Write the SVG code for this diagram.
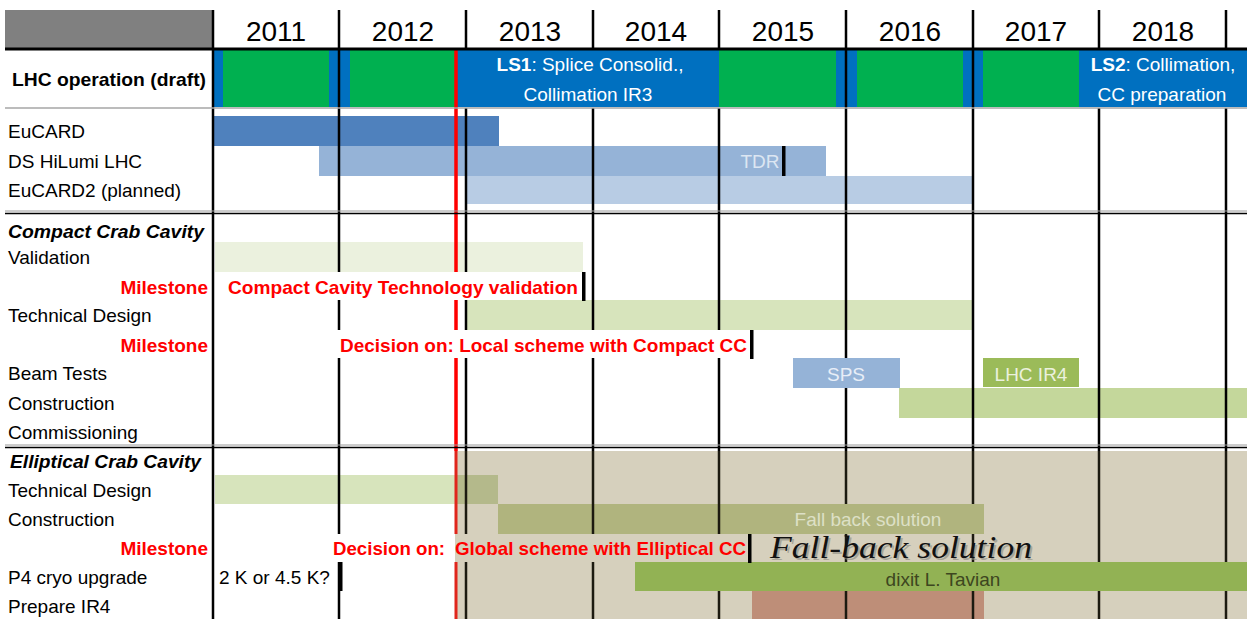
<svg xmlns="http://www.w3.org/2000/svg" width="1247" height="619" viewBox="0 0 1247 619">
<style>
text{font-family:"Liberation Sans",Arial,sans-serif;}
.yr{font-size:28px;fill:#000;text-anchor:middle;}
.lbl{font-size:19px;fill:#000;}
.ttl{font-size:19px;font-weight:bold;font-style:italic;fill:#000;}
.ms{font-size:19px;font-weight:bold;fill:#ff0000;}
.msl{font-size:19px;font-weight:bold;fill:#ff0000;text-anchor:end;}
.ls{font-size:19px;fill:#fff;text-anchor:middle;}
.bar{font-size:19px;text-anchor:middle;}
.scr{font-family:"Liberation Serif","Times New Roman",serif;font-style:italic;font-size:32px;}
.g{stroke:#000;stroke-width:2.5;fill:none;}
.gt{stroke:#1c1a10;stroke-width:2.5;fill:none;}
.mk{fill:#000;}
</style>
<rect x="0" y="0" width="1247" height="619" fill="#fff"/>
<rect x="5" y="10" width="208" height="38" fill="#808080"/>
<rect x="455" y="451" width="792" height="168" fill="#d6d0bd"/>

<g id="lhc-operation">
<rect x="213" y="50" width="1034" height="57" fill="#0070c0"/>
<rect x="223" y="50" width="106" height="57" fill="#00b050"/>
<rect x="350" y="50" width="105" height="57" fill="#00b050"/>
<rect x="719" y="50" width="117" height="57" fill="#00b050"/>
<rect x="857" y="50" width="106" height="57" fill="#00b050"/>
<rect x="983" y="50" width="96" height="57" fill="#00b050"/>
<text class="ls" x="590" y="71"><tspan font-weight="bold">LS1</tspan>: Splice Consolid.,</text>
<text class="ls" x="588" y="101">Collimation IR3</text>
<text class="ls" x="1163" y="71"><tspan font-weight="bold">LS2</tspan>: Collimation,</text>
<text class="ls" x="1162" y="101">CC preparation</text>
</g>

<g id="bars">
<rect x="213" y="116" width="286" height="30" fill="#4f81bd"/>
<rect x="319" y="146" width="507" height="30" fill="#95b3d7"/>
<rect x="467" y="176" width="505" height="28" fill="#b8cce4"/>
<rect x="215" y="242" width="368" height="30" fill="#ebf1de"/>
<rect x="467" y="300" width="505" height="30" fill="#d7e4bc"/>
<rect x="983" y="358" width="96" height="29" fill="#9bbb59"/>
<rect x="899" y="388" width="348" height="30" fill="#c4d79b"/>
<rect x="215" y="475" width="240" height="29" fill="#d7e4bc"/>
<rect x="455" y="475" width="43" height="29" fill="#b4b98b"/>
<rect x="498" y="504" width="486" height="30" fill="#b0b47e"/>
<rect x="752" y="591" width="232" height="28" fill="#be8e78"/>
</g>

<g id="connectors">
<path class="g" d="M213,10V619" stroke-width="3"/>
<path class="g" d="M339,10V272M339,300V330M339,358V534M339,562V619"/>
<path class="g" d="M466,10V50M466,108V272M466,300V330M466,358V451"/>
<path class="gt" d="M466,451V534M466,562V619"/>
<path class="g" d="M593,10V50M593,108V330M593,358V451"/>
<path class="gt" d="M593,451V534M593,562V619"/>
<path class="g" d="M719,10V50M719,108V330M719,358V451"/>
<path class="gt" d="M719,451V534M719,562V619"/>
<path class="g" d="M846,10V451"/>
<path class="gt" d="M846,451V504M846,534V619"/>
<path class="g" d="M973,10V451"/>
<path class="gt" d="M973,451V504M973,534V619"/>
<path class="g" d="M1099,10V50M1099,108V451"/>
<path class="gt" d="M1099,451V619"/>
<path class="g" d="M1226,10V50M1226,108V451"/>
<path class="gt" d="M1226,451V619"/>
<path d="M456,50V272M456,300V330M456,358V451" stroke="#ff0000" stroke-width="3.5" fill="none"/>
<path d="M456,451V534M456,562V619" stroke="#e0261c" stroke-width="3" fill="none"/>
<path d="M5,49H1247" stroke="#000" stroke-width="3"/>
<path d="M5,108H1247" stroke="#a6a6a6" stroke-width="1.5"/>
<path d="M5,211H1247" stroke="#9a9a9a" stroke-width="1"/>
<path d="M5,213.5H1247" stroke="#000" stroke-width="1.5"/>
<path d="M5,445H1247" stroke="#9a9a9a" stroke-width="1"/>
<path d="M5,447.5H1247" stroke="#000" stroke-width="1.5"/>
</g>

<g id="top-bars">
<rect x="216" y="272" width="366" height="28" fill="#fff"/>
<rect x="337" y="330" width="413" height="28" fill="#fff"/>
<rect x="330" y="534" width="125" height="28" fill="#fff"/>
<rect x="793" y="358" width="107" height="30" fill="#95b3d7"/>
<rect x="635" y="562" width="612" height="29" fill="#92b254"/>
</g>

<g id="markers">
<rect class="mk" x="782" y="146" width="3.5" height="30"/>
<rect class="mk" x="582" y="272" width="3.5" height="29"/>
<rect class="mk" x="750" y="330" width="3.5" height="29"/>
<rect class="mk" x="748" y="534" width="3.5" height="29"/>
<rect class="mk" x="339" y="562" width="3.5" height="29"/>
</g>

<g id="years">
<text class="yr" x="276" y="41">2011</text>
<text class="yr" x="403" y="41">2012</text>
<text class="yr" x="530" y="41">2013</text>
<text class="yr" x="656" y="41">2014</text>
<text class="yr" x="783" y="41">2015</text>
<text class="yr" x="910" y="41">2016</text>
<text class="yr" x="1036" y="41">2017</text>
<text class="yr" x="1163" y="41">2018</text>
</g>

<g id="labels">
<text x="12" y="86" font-size="19" font-weight="bold" textLength="194" lengthAdjust="spacingAndGlyphs">LHC operation (draft)</text>
<text class="lbl" x="8" y="138">EuCARD</text>
<text class="lbl" x="8" y="168">DS HiLumi LHC</text>
<text class="lbl" x="8" y="197">EuCARD2 (planned)</text>
<text class="ttl" x="8" y="238" textLength="196" lengthAdjust="spacingAndGlyphs">Compact Crab Cavity</text>
<text class="lbl" x="8" y="264">Validation</text>
<text class="msl" x="208" y="294">Milestone</text>
<text class="lbl" x="8" y="322">Technical Design</text>
<text class="msl" x="208" y="352">Milestone</text>
<text class="lbl" x="8" y="380">Beam Tests</text>
<text class="lbl" x="8" y="410">Construction</text>
<text class="lbl" x="8" y="439">Commissioning</text>
<text class="ttl" x="10" y="468" textLength="191" lengthAdjust="spacingAndGlyphs">Elliptical Crab Cavity</text>
<text class="lbl" x="8" y="497">Technical Design</text>
<text class="lbl" x="8" y="526">Construction</text>
<text class="msl" x="208" y="555">Milestone</text>
<text class="lbl" x="8" y="584">P4 cryo upgrade</text>
<text class="lbl" x="8" y="613">Prepare IR4</text>
</g>

<g id="bar-texts">
<text class="bar" x="760" y="168" fill="#dce6f2">TDR</text>
<text class="ms" x="228" y="294" textLength="350" lengthAdjust="spacingAndGlyphs">Compact Cavity Technology validation</text>
<text class="ms" x="340" y="352" textLength="407" lengthAdjust="spacingAndGlyphs">Decision on: Local scheme with Compact CC</text>
<text class="bar" x="846" y="381" fill="#e8eef7">SPS</text>
<text class="bar" x="1031" y="381" fill="#ebf1de">LHC IR4</text>
<text class="bar" x="868" y="526" fill="#dde0c6">Fall back solution</text>
<text class="ms" x="333" y="555" textLength="112" lengthAdjust="spacingAndGlyphs">Decision on:</text>
<text class="ms" x="455" y="555" fill="#d8382a" textLength="291" lengthAdjust="spacingAndGlyphs">Global scheme with Elliptical CC</text>
<text class="lbl" x="219" y="584">2 K or 4.5 K?</text>
<text class="bar" x="943" y="586" fill="#3d4620">dixit L. Tavian</text>
<text class="scr" x="772" y="560" fill="#8a8a80" opacity="0.6" textLength="262" lengthAdjust="spacingAndGlyphs">Fall-back solution</text>
<text class="scr" x="770" y="558" fill="#111" textLength="262" lengthAdjust="spacingAndGlyphs">Fall-back solution</text>
</g>
</svg>
